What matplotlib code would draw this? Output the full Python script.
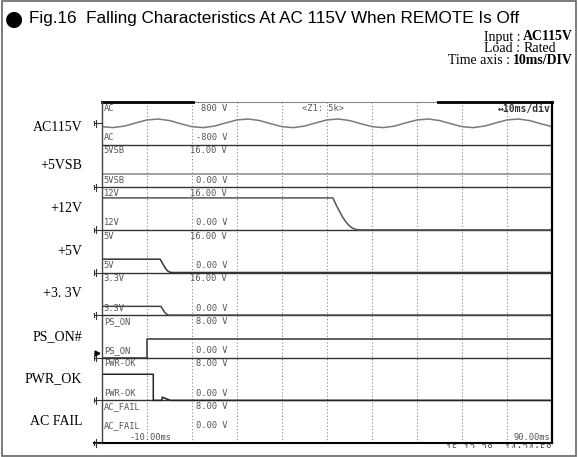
import numpy as np
import matplotlib
matplotlib.use("Agg")
import matplotlib.pyplot as plt
from matplotlib.patches import Rectangle

W, H = 578, 457

# ---------------- data ----------------
title = "Fig.16  Falling Characteristics At AC 115V When REMOTE Is Off"
info_keys = ["Input :", "Load :", "Time axis :"]
info_vals = ["AC115V", "Rated", "10ms/DIV"]

side_labels = ["AC115V", "+5VSB", "+12V", "+5V", "+3. 3V", "PS_ON#", "PWR_OK", "AC FAIL"]
ch_names = ["AC", "5VSB", "12V", "5V", "3.3V", "PS_ON", "PWR-OK", "AC_FAIL"]
ch_top = ["800 V", "16.00 V", "16.00 V", "16.00 V", "16.00 V", "8.00 V", "8.00 V", "8.00 V"]
ch_bot = ["-800 V", "0.00 V", "0.00 V", "0.00 V", "0.00 V", "0.00 V", "0.00 V", "0.00 V"]
ch_span = [1600, 16, 16, 16, 16, 8, 8, 8]      # volts per zone
ch_zero = [0.5, 0, 0, 0, 0, 0, 0, 0]            # where 0 V sits inside the zone

# time in ms, values in V
t_ac = np.arange(-10, 90.01, 2.5)
v_ac = [-126, -160, -104, 14, 125, 161, 103, -16,
        -127, -161, -103, 15, 126, 162, 104, -15,
        -126, -162, -104, 15, 127, 161, 104, -14,
        -125, -161, -105, 16, 126, 162, 103, -15,
        -126, -162, -104, 15, 126, 161, 104, -15,
        -126]
t_5vsb = [-10, 90]
v_5vsb = [5, 5]
t_12v = [-10, 41.3, 42.0, 42.7, 43.4, 44.1, 44.8, 45.5, 46.3, 47.3, 90]
v_12v = [12, 12, 9.5, 7.2, 5.0, 3.2, 1.8, 0.8, 0.2, 0, 0]
t_5v = [-10, 2.9, 3.3, 3.7, 4.1, 4.5, 5.0, 5.6, 90]
v_5v = [5, 5, 3.9, 2.7, 1.6, 0.7, 0.15, 0, 0]
t_33v = [-10, 3.1, 3.5, 3.9, 4.3, 4.8, 90]
v_33v = [3.3, 3.3, 2.2, 1.1, 0.4, 0, 0]
t_pson = [-10, 0.1, 0.1, 90]
v_pson = [0, 0, 3.5, 3.5]
t_pwrok = [-10, 1.4, 1.4, 3.3, 3.4, 5.2, 90]
v_pwrok = [4.9, 4.9, 0, 0, 0.6, 0, 0]
t_acfail = [-10, 90]
v_acfail = [0, 0]

traces = [(t_ac, v_ac, "#7a7a7a"), (t_5vsb, v_5vsb, "#8a8a8a"), (t_12v, v_12v, "#555555"),
          (t_5v, v_5v, "#333333"), (t_33v, v_33v, "#444444"), (t_pson, v_pson, "#333333"),
          (t_pwrok, v_pwrok, "#222222"), (t_acfail, v_acfail, "#333333")]

# ---------------- figure ----------------
fig = plt.figure(figsize=(W / 100, H / 100), dpi=100)
fig.patch.set_facecolor("white")


def fx(x):
    return x / W


def fy(y):
    return 1 - y / H


# outer frame
fig.patches.append(Rectangle((fx(1.5), fy(455.5)), fx(575.5) - fx(1.5), fy(1.5) - fy(455.5),
                             transform=fig.transFigure, fill=False, ec="#666666", lw=1.2))

# title
fig.text(fx(14), fy(19), "\u25CF", fontsize=15, ha="center", va="center", family="DejaVu Sans")
tt = fig.text(fx(29), fy(19), title, fontsize=14, ha="left", va="center",
              family=["Liberation Sans Narrow", "Liberation Sans", "DejaVu Sans"])
fig.canvas.draw()
bb = tt.get_window_extent()
tt.set_fontsize(14 * (522 - 29) / bb.width)

# info lines: values end at the right, colons of the first two lines line up
serif = dict(fontsize=10, family="Liberation Serif", va="center")
info_y = [37, 49, 61]
r = fig.canvas.get_renderer()
v0 = fig.text(fx(573), fy(info_y[0]), info_vals[0], ha="right", weight="bold", **serif)
x_left = v0.get_window_extent(r).x0 / W
fig.text(x_left - fx(3), fy(info_y[0]), info_keys[0], ha="right", **serif)
fig.text(x_left, fy(info_y[1]), info_vals[1], ha="left", **serif)
fig.text(x_left - fx(3), fy(info_y[1]), info_keys[1], ha="right", **serif)
v2 = fig.text(fx(573), fy(info_y[2]), info_vals[2], ha="right", weight="bold", **serif)
x2 = v2.get_window_extent(r).x0 / W
fig.text(x2 - fx(3), fy(info_y[2]), info_keys[2], ha="right", **serif)

# scope area
ax = fig.add_axes([fx(102), fy(443), fx(552) - fx(102), fy(102) - fy(443)])
ax.set_xlim(-10, 90)
ax.set_ylim(0, 8)
ax.axis("off")
n = len(ch_names)

# dotted lattice
gx, gy = np.meshgrid(np.arange(-10, 90.01, 1), np.arange(0, 8.001, 1 / 9))
ax.scatter(gx.ravel(), gy.ravel(), s=0.45, marker="s", color="#8c8c8c", lw=0)
ax.vlines(np.arange(0, 81, 10), 0, 8, colors="#7a7a7a", lw=0.75, linestyles=(0, (1, 2.2)))

# zone separators
ax.hlines(np.arange(1, n), -10, 90, colors="#333333", lw=1.0)

# traces
for k, (t, v, c) in enumerate(traces):
    base = n - 1 - k + ch_zero[k]
    ax.plot(t, base + np.array(v) / ch_span[k], color=c, lw=1.1, solid_joinstyle="round")

# zone texts
mono = dict(family="DejaVu Sans Mono", fontsize=6.3, color="#555555")
for k in range(n):
    top = n - k
    low = top - 1 + (0.3 if k == n - 1 else 0.06)
    ax.text(-9.6, top - 0.04, ch_names[k], ha="left", va="top", **mono)
    ax.text(17.8, top - 0.04, ch_top[k], ha="right", va="top", **mono)
    ax.text(-9.6, low, ch_names[k], ha="left", va="bottom", **mono)
    ax.text(17.8, low, ch_bot[k], ha="right", va="bottom", **mono)
ax.text(39, 8 - 0.04, "<Z1: 5k>", ha="center", va="top", **mono)
ax.text(89.6, 8 - 0.04, "\u219410ms/div", ha="right", va="top", family="DejaVu Sans Mono",
        fontsize=7, weight="bold", color="#333333")
ax.text(-4, 0.03, "-10.00ms", ha="left", va="bottom", **mono)
ax.text(89.6, 0.03, "90.00ms", ha="right", va="bottom", **mono)

# borders
ax.plot([-10, 90], [8, 8], color="#888888", lw=0.8, clip_on=False)
ax.plot([-10, 10.2], [8, 8], color="black", lw=2, clip_on=False)
ax.plot([64.7, 90], [8, 8], color="black", lw=2, clip_on=False)
ax.plot([-10, -10], [0, 8], color="#444444", lw=1.0, clip_on=False)
ax.plot([90, 90], [0, 8], color="black", lw=1.6, clip_on=False)
ax.plot([-11.8, 90], [0, 0], color="black", lw=1.5, clip_on=False)

# ground marks at each zero level
pxm = 100 / 450  # ms per pixel
for k in range(n):
    y0 = n - 1 - k + ch_zero[k]
    ax.plot([-10 - 8 * pxm, -10], [y0, y0], color="#333333", lw=0.8, clip_on=False)
    ax.plot([-10 - 6 * pxm] * 2, [y0 - 3.5 / 42.6, y0 + 3.5 / 42.6], color="#333333", lw=0.8, clip_on=False)
    ax.plot([-10 - 8 * pxm] * 2, [y0 - 2 / 42.6, y0 + 2 / 42.6], color="#333333", lw=0.8, clip_on=False)
ax.plot([-10 - 5 * pxm], [2 + 5 / 42.6], marker=">", ms=3.5, color="black", clip_on=False)

# side labels
for k in range(n):
    yc = 102 + (k + 0.5) * 341 / n + (4 if k == 0 else 0)
    fig.text(fx(82), fy(yc), side_labels[k], ha="right", va="center", fontsize=10,
             family="Liberation Serif")

# cut-off timestamp below the screen
ax2 = fig.add_axes([fx(94), fy(448), fx(552) - fx(94), fy(444) - fy(448)])
ax2.axis("off")
ax2.set_xlim(0, 1)
ax2.set_ylim(0, 1)
ax2.text(1, 1.0, "15-12-28  14:24:58", ha="right", va="top", fontsize=7,
         family="DejaVu Sans Mono", color="#555555", clip_on=True)

fig.savefig("out.png", dpi=100)
